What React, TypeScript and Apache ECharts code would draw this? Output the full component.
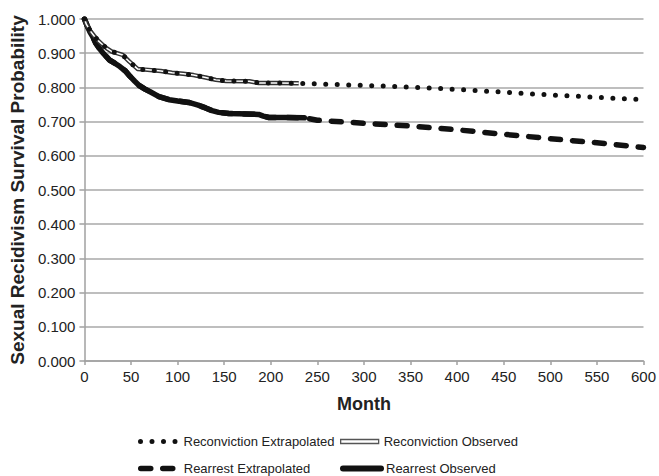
import React, { useEffect, useRef } from "react";
import * as echarts from "echarts";

// Reconviction observed (months, survival probability)
const rcMonths = [0, 2, 6, 10, 15, 19, 24, 29, 35, 41, 48, 57, 65, 82, 94, 106, 117, 130, 141, 152, 177, 187, 205, 230];
const rcObserved = [1.0, 0.985, 0.966, 0.952, 0.936, 0.926, 0.914, 0.905, 0.9, 0.895, 0.876, 0.854, 0.852, 0.848, 0.843, 0.84, 0.836, 0.829, 0.822, 0.819, 0.818, 0.813, 0.813, 0.812];
// Reconviction extrapolated tail
const rcTailMonths = [250, 300, 350, 400, 450, 500, 550, 600];
const rcTail = [0.81, 0.806, 0.801, 0.794, 0.786, 0.778, 0.771, 0.764];

// Rearrest observed
const rrMonths = [0, 3, 6, 9, 12, 15, 20, 27, 33, 38, 44, 49, 54, 59, 65, 70, 80, 91, 100, 112, 122, 130, 137, 144, 155, 166, 187, 192, 198, 215, 236];
const rrObserved = [1.0, 0.98, 0.962, 0.948, 0.93, 0.918, 0.9, 0.88, 0.87, 0.861, 0.848, 0.832, 0.818, 0.805, 0.795, 0.788, 0.773, 0.764, 0.76, 0.756, 0.748, 0.74, 0.732, 0.727, 0.724, 0.723, 0.721, 0.716, 0.712, 0.712, 0.711];
// Rearrest extrapolated tail
const rrTailMonths = [250, 300, 350, 400, 450, 500, 550, 600];
const rrTail = [0.704, 0.695, 0.687, 0.676, 0.663, 0.65, 0.638, 0.624];

const xTicks = { min: 0, max: 600, interval: 50 };
const yTicks = { min: 0, max: 1, interval: 0.1 };

const FONT = "'Liberation Sans', Arial, Helvetica, sans-serif";

const pairs = (xs: number[], ys: number[]) => xs.map((x, i) => [x, ys[i]]);

export default function App() {
  const ref = useRef<HTMLDivElement>(null);
  useEffect(() => {
    if (!ref.current) return;
    const chart = echarts.init(ref.current, undefined, { renderer: "svg" });
    const rcObsData = pairs(rcMonths, rcObserved);
    const rcExtData = rcObsData.concat(pairs(rcTailMonths, rcTail));
    const rrObsData = pairs(rrMonths, rrObserved);
    const rrExtData = rrObsData.concat(pairs(rrTailMonths, rrTail));
    const legendText = { fontSize: 13, color: "#222", fontFamily: FONT };
    const hiddenSymbol = { color: "rgba(0,0,0,0)", borderColor: "rgba(0,0,0,0)", borderWidth: 0 };
    const legendBase = {
      orient: "horizontal",
      padding: 0,
      itemWidth: 38,
      itemGap: 6,
      selectedMode: false,
      textStyle: legendText,
      itemStyle: hiddenSymbol,
    };
    chart.setOption({
      animation: false,
      backgroundColor: "#fff",
      textStyle: { fontFamily: FONT },
      grid: { left: 84, right: 12, top: 19, bottom: 115 },
      xAxis: {
        type: "value",
        min: xTicks.min,
        max: xTicks.max,
        interval: xTicks.interval,
        name: "Month",
        nameLocation: "middle",
        nameGap: 34,
        nameTextStyle: { fontSize: 18, fontWeight: "bold", color: "#222", fontFamily: FONT },
        axisLine: { show: true, lineStyle: { color: "#a0a0a0", width: 1.5 } },
        axisTick: { show: true, length: 4, lineStyle: { color: "#a0a0a0", width: 1.5 } },
        axisLabel: { fontSize: 15, color: "#222", margin: 8, fontFamily: FONT },
        splitLine: { show: false },
      },
      yAxis: {
        type: "value",
        min: yTicks.min,
        max: yTicks.max,
        interval: yTicks.interval,
        name: "Sexual Recidivism Survival Probability",
        nameLocation: "middle",
        nameGap: 57,
        nameTextStyle: { fontSize: 19, fontWeight: "bold", color: "#222", fontFamily: FONT },
        axisLine: { show: true, lineStyle: { color: "#a0a0a0", width: 1.5 } },
        axisTick: { show: true, length: 5, lineStyle: { color: "#a0a0a0", width: 1.5 } },
        axisLabel: {
          fontSize: 15,
          color: "#222",
          margin: 9,
          fontFamily: FONT,
          formatter: (v: number) => v.toFixed(3),
        },
        splitLine: { show: true, lineStyle: { color: "#a8a8a8", width: 1.5 } },
      },
      legend: [
        {
          ...legendBase,
          left: 138,
          top: 435,
          lineStyle: { width: 5, type: [0, 11.5], cap: "round", color: "#111" },
          data: ["Reconviction Extrapolated"],
        },
        {
          ...legendBase,
          left: 340,
          top: 435,
          itemHeight: 4,
          data: [
            {
              name: "Reconviction Observed",
              icon: "rect",
              itemStyle: { color: "#fff", borderColor: "#555", borderWidth: 1.3 },
            },
          ],
        },
        {
          ...legendBase,
          left: 138,
          top: 462,
          lineStyle: { width: 5.5, type: [10, 12], cap: "round", color: "#111" },
          data: ["Rearrest Extrapolated"],
        },
        {
          ...legendBase,
          left: 340,
          top: 462,
          lineStyle: { width: 6, type: "solid", cap: "round", color: "#111" },
          data: ["Rearrest Observed"],
        },
      ],
      series: [
        {
          name: "Rearrest Extrapolated",
          type: "line",
          data: rrExtData,
          symbol: "none",
          z: 1,
          color: "#111",
          lineStyle: { color: "#111", width: 5.5, type: [10, 12], cap: "round" },
        },
        {
          name: "Rearrest Observed",
          type: "line",
          data: rrObsData,
          symbol: "none",
          z: 2,
          color: "#111",
          lineStyle: { color: "#111", width: 5.5, type: "solid", cap: "round", join: "round" },
        },
        {
          name: "Reconviction Observed",
          type: "line",
          data: rcObsData,
          symbol: "none",
          z: 3,
          color: "#333",
          lineStyle: { color: "#333", width: 4.5, join: "round" },
        },
        {
          name: "rcObsInner",
          type: "line",
          data: rcObsData,
          symbol: "none",
          z: 4,
          color: "#fff",
          lineStyle: { color: "#fff", width: 1.5, join: "round" },
        },
        {
          name: "Reconviction Extrapolated",
          type: "line",
          data: rcExtData,
          symbol: "none",
          z: 5,
          color: "#111",
          lineStyle: { color: "#111", width: 5, type: [0, 11.5], cap: "round" },
        },
      ],
    });
    return () => chart.dispose();
  }, []);
  return (
    <div
      ref={ref}
      style={{ position: "fixed", left: 0, top: 0, width: 659, height: 476, background: "#fff" }}
    />
  );
}
